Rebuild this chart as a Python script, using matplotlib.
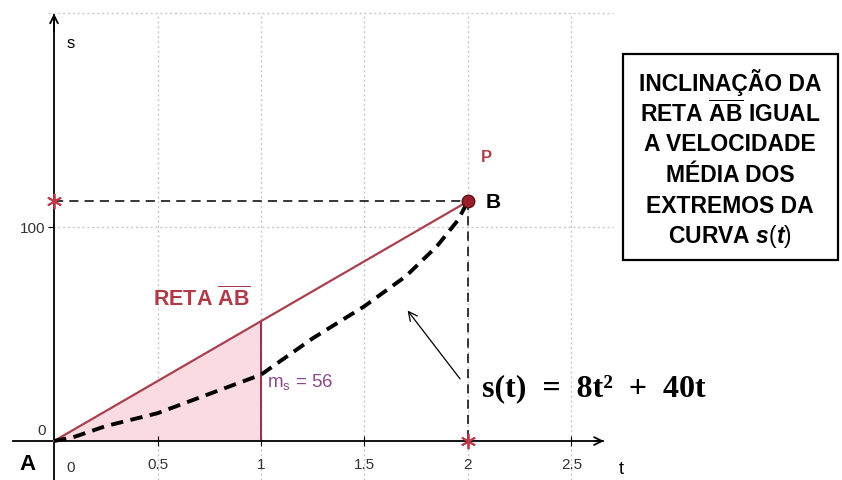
import matplotlib.pyplot as plt
from matplotlib.patches import Rectangle

plt.rcParams['font.family'] = ['Liberation Sans', 'DejaVu Sans']
plt.rcParams['mathtext.fontset'] = 'custom'
plt.rcParams['mathtext.rm'] = 'Liberation Sans'
plt.rcParams['mathtext.bf'] = 'Liberation Sans:bold'
plt.rcParams['mathtext.it'] = 'Liberation Sans:bold:italic'

# curva s(t) (tracejada)
t_curva = [0, 0.1, 0.25, 0.5, 0.75, 1.0, 1.25, 1.5, 1.7, 1.85, 1.95, 2.0]
s_curva = [0, 2, 7, 13, 22, 31, 48, 63, 77, 91, 103, 112]

# reta AB
t_reta = [0, 2]
s_reta = [0, 112]
m_s = 56

x_ticks = [0.5, 1, 1.5, 2, 2.5]
x_labels = ['0.5', '1', '1.5', '2', '2.5']
y_ticks = [100]
y_labels = ['100']
grade_t = [0.5, 1, 1.5, 2, 2.5]
grade_s = [100, 200]

vermelho = '#a8404f'

fig = plt.figure(figsize=(8.42, 4.81), dpi=100)
ax = fig.add_axes([0, 0, 1, 1])
ax.set_xlim(-0.261, 3.807)
ax.set_ylim(-18.2, 206.5)

# grade pontilhada
ax.vlines(grade_t, -18.2, 200, colors='#c8c8c8', linestyles=(0, (1.5, 2)), lw=1, zorder=0)
ax.hlines(grade_s, -0.03, 2.7, colors='#c8c8c8', linestyles=(0, (1.5, 2)), lw=1, zorder=0)

# eixos
for lado in ['top', 'right']:
    ax.spines[lado].set_visible(False)
ax.spines['left'].set_position(('data', 0))
ax.spines['bottom'].set_position(('data', 0))
ax.spines['left'].set_bounds(-18.2, 199)
ax.spines['bottom'].set_bounds(-0.2, 2.65)
ax.spines['left'].set_linewidth(1.3)
ax.spines['bottom'].set_linewidth(1.3)
ax.annotate('', xy=(2.67, 0), xytext=(2.6, 0),
            arrowprops=dict(arrowstyle='->', lw=1.3, color='black', mutation_scale=14))
ax.annotate('', xy=(0, 201), xytext=(0, 190),
            arrowprops=dict(arrowstyle='->', lw=1.3, color='black', mutation_scale=14))

ax.set_xticks(x_ticks, x_labels)
ax.set_yticks(y_ticks, y_labels)
ax.tick_params(axis='x', direction='inout', length=7, pad=8, labelsize=11, labelcolor='#333333')
ax.tick_params(axis='y', direction='out', length=4, pad=2, labelsize=11, labelcolor='#333333')
ax.text(0.06, -12, '0', fontsize=11, color='#333333', ha='left', va='center')
ax.text(-0.04, 5, '0', fontsize=11, color='#333333', ha='right', va='center')
ax.text(2.73, -13, 't', fontsize=13, ha='left', va='center')
ax.text(0.06, 186, 's', fontsize=12, ha='left', va='center')

# área sob a reta até t = 1
ax.fill_between([0, 1], [0, m_s], 0, color='#fadbe2', lw=0, zorder=1)
ax.vlines(1, 0, m_s, colors='#8b3a5a', lw=1.5, zorder=2)

# reta AB e curva
ax.plot(t_reta, s_reta, color=vermelho, lw=1.6, zorder=3)
ax.plot(t_curva, s_curva, color='black', lw=2.8, dashes=(3.2, 1.9), zorder=4)

# linhas de projeção de B
ax.plot([0, t_reta[1]], [s_reta[1], s_reta[1]], color='black', lw=1.1, dashes=(6, 4), zorder=2)
ax.plot([t_reta[1], t_reta[1]], [s_reta[1], 0], color='black', lw=1.1, dashes=(6, 4), zorder=2)
ax.plot([0, t_reta[1]], [s_reta[1], 0], ls='none', marker=(6, 2, 0), ms=11,
        mec='#c03848', mew=1.3, zorder=6)
ax.plot(t_reta[1], s_reta[1], 'o', ms=9, color='#9a1f2a', mec='#5a0f15', zorder=6)

# rótulos
ax.text(-0.13, -10.5, 'A', fontsize=16, fontweight='bold', ha='center', va='center')
ax.text(2.12, s_reta[1], 'B', fontsize=15, fontweight='bold', ha='center', va='center')
ax.text(2.09, 133, 'P', fontsize=12, fontweight='bold', color='#b04048', ha='center', va='center')
ax.text(0.48, 67, r'RETA $\mathbf{\overline{AB}}$', fontsize=15.5, fontweight='bold',
        color='#b03a48', ha='left', va='center')
ax.text(1.03, 28, r'$\mathrm{m_s}$ = ' + str(m_s), fontsize=13.5, color='#8a4a8a',
        ha='left', va='center')
ax.text(2.07, 25, 's(t)\u2002=\u20028t²\u2002+\u200240t', fontsize=23, fontweight='bold',
        family='Liberation Serif', ha='left', va='center')
ax.annotate('', xy=(1.70, 62), xytext=(1.97, 28),
            arrowprops=dict(arrowstyle='->', lw=0.9, color='black', mutation_scale=16))

# caixa de texto
fig.patches.append(Rectangle((623 / 842, 1 - 261 / 481), 215 / 842, 206 / 481,
                             transform=fig.transFigure, fill=False, ec='black', lw=1.6))
linhas = ['INCLINAÇÃO DA',
          r'RETA $\mathbf{\overline{AB}}$ IGUAL',
          'A VELOCIDADE',
          'MÉDIA DOS',
          'EXTREMOS DA',
          r'CURVA $\mathit{s(t)}$']
for i, linha in enumerate(linhas):
    fig.text(730 / 842, 1 - (83 + i * 30.8) / 481, linha, fontsize=16.5, fontweight='bold',
             ha='center', va='center')

fig.savefig('out.png', dpi=100)
